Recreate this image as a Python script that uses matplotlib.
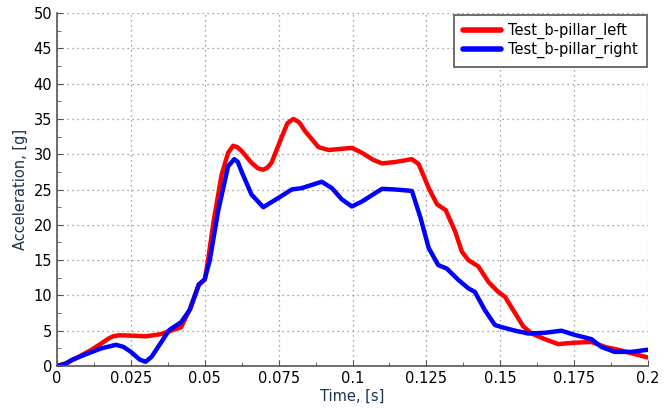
import numpy as np
import matplotlib
matplotlib.use("Agg")
import matplotlib.pyplot as plt
from matplotlib.ticker import MultipleLocator

# values
t_left = [0.0, 0.003, 0.0069, 0.0115, 0.015, 0.0175, 0.019, 0.021, 0.025, 0.03, 0.035, 0.04, 0.042,
          0.045, 0.048, 0.05, 0.0511, 0.053, 0.0557, 0.0579, 0.0596, 0.061, 0.0624, 0.0658,
          0.068, 0.0698, 0.0712, 0.0726, 0.076, 0.078, 0.08, 0.082, 0.0839, 0.0885, 0.0919,
          0.0998, 0.1032, 0.107, 0.11, 0.1145, 0.1201, 0.1224, 0.1258, 0.1286, 0.1315, 0.1348,
          0.137, 0.1392, 0.1426, 0.146, 0.1493, 0.1516, 0.1544, 0.1578, 0.1606, 0.1651,
          0.1696, 0.1752, 0.1809, 0.1854, 0.1899, 0.1944, 0.2]
a_left = [0.0, 0.4, 1.2, 2.25, 3.2, 3.9, 4.2, 4.35, 4.3, 4.2, 4.5, 5.2, 5.5,
          8.1, 11.6, 12.2, 15.0, 20.5, 27.1, 30.2, 31.2, 31.0, 30.5, 28.8,
          28.0, 27.8, 28.1, 28.8, 32.4, 34.4, 35.0, 34.5, 33.3, 31.0, 30.6,
          30.9, 30.2, 29.2, 28.7, 28.9, 29.3, 28.6, 25.2, 22.9, 22.1, 19.0,
          16.2, 15.0, 14.1, 11.9, 10.5, 9.8, 7.9, 5.6, 4.6, 3.8,
          3.1, 3.3, 3.4, 2.7, 2.3, 1.8, 1.2]

t_right = [0.0, 0.003, 0.005, 0.01, 0.015, 0.02, 0.0225, 0.025, 0.028, 0.03, 0.032, 0.035,
           0.038, 0.042, 0.045, 0.048, 0.05, 0.0517, 0.0545, 0.0579, 0.06, 0.0612, 0.0624,
           0.0658, 0.0698, 0.0749, 0.0794, 0.0828, 0.0896, 0.093, 0.0964, 0.0998, 0.1032,
           0.11, 0.1145, 0.1201, 0.123, 0.1258, 0.129, 0.1319, 0.1358, 0.1392, 0.1414,
           0.1448, 0.1482, 0.1505, 0.155, 0.1595, 0.1651, 0.1707, 0.1752, 0.1809, 0.1842,
           0.1887, 0.1944, 0.2]
a_right = [0.0, 0.3, 0.85, 1.7, 2.5, 3.0, 2.7, 2.0, 0.9, 0.6, 1.3, 3.2,
           5.1, 6.2, 8.0, 11.5, 12.3, 15.0, 21.9, 28.3, 29.3, 28.9, 27.6,
           24.3, 22.5, 23.8, 25.0, 25.2, 26.1, 25.2, 23.6, 22.6, 23.3,
           25.1, 25.0, 24.8, 21.0, 16.7, 14.3, 13.8, 12.2, 11.0, 10.5,
           7.9, 5.8, 5.5, 5.0, 4.6, 4.7, 5.0, 4.4, 3.8, 2.7,
           2.0, 2.0, 2.3]

series_names = ["Test_b-pillar_left", "Test_b-pillar_right"]
x_ticks = [0, 0.025, 0.05, 0.075, 0.1, 0.125, 0.15, 0.175, 0.2]
x_tick_labels = ["0", "0.025", "0.05", "0.075", "0.1", "0.125", "0.15", "0.175", "0.2"]

fig = plt.figure(figsize=(6.66, 4.08), dpi=100)
ax = fig.add_axes([0.0856, 0.103, 0.8874, 0.865])

ax.plot(t_left, a_left, color="#ff0000", lw=3.2, label=series_names[0],
        solid_joinstyle="round", solid_capstyle="round")
ax.plot(t_right, a_right, color="#0000ff", lw=3.2, label=series_names[1],
        solid_joinstyle="round", solid_capstyle="round")

ax.set_xlim(0, 0.2)
ax.set_ylim(0, 50)
ax.set_xticks(x_ticks)
ax.set_xticklabels(x_tick_labels)
ax.set_yticks(range(0, 51, 5))
ax.xaxis.set_minor_locator(MultipleLocator(0.0125))
ax.yaxis.set_minor_locator(MultipleLocator(2.5))
ax.tick_params(which="both", direction="in", colors="#555555", labelcolor="black",
               labelsize=10.5)
ax.tick_params(which="major", length=4)
ax.tick_params(which="minor", length=3)
ax.grid(True, which="major", linestyle=(0, (1, 3)), color="#888888", lw=0.9)

for side in ["top", "right"]:
    ax.spines[side].set_visible(False)
for side in ["left", "bottom"]:
    ax.spines[side].set_color("#555555")
    ax.spines[side].set_linewidth(1.2)

ax.set_xlabel("Time, [s]", fontsize=10.5, color="#1a3350", labelpad=2)
ax.set_ylabel("Acceleration, [g]", fontsize=10.5, color="#1a3350", labelpad=4)

leg = ax.legend(loc="upper right", fontsize=10.5, fancybox=False, framealpha=1,
                borderpad=0.6, handlelength=2.6, handletextpad=0.5, labelspacing=0.15,
                borderaxespad=0.1)
leg.get_frame().set_edgecolor("#555555")
leg.get_frame().set_linewidth(1.2)
for h in leg.get_lines():
    h.set_linewidth(4)

fig.savefig("out.png", dpi=100)
